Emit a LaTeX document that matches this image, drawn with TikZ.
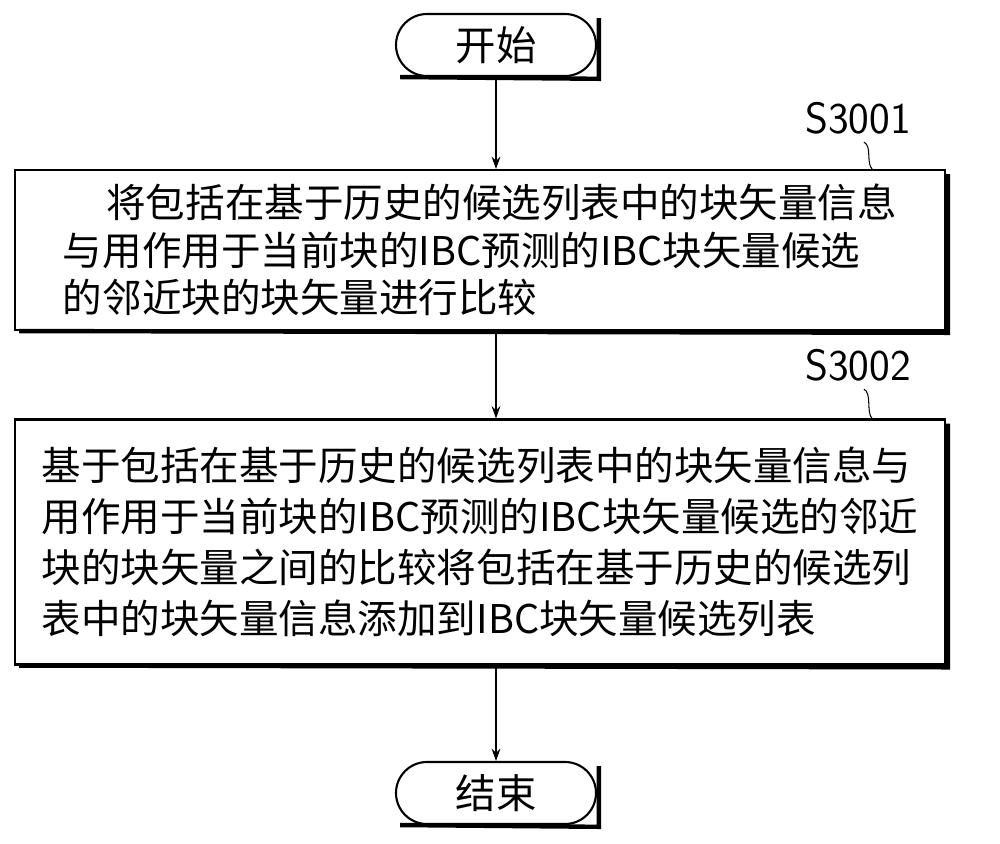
\documentclass[tikz,border=0pt]{standalone}
\usepackage{fontspec}
\setmainfont{Noto Sans CJK SC}
\usetikzlibrary{positioning,arrows.meta}
\tikzset{
  stepbox/.style={draw,line width=1.2pt,minimum width=930*0.02cm,align=left,inner sep=0pt},
  term/.style={draw,line width=1.2pt,rounded corners=31*0.02cm,minimum width=200*0.02cm,minimum height=62*0.02cm,font=\fontsize{23}{25}\selectfont},
  shade/.style={line width=2.5pt},
  flow/.style={-{Stealth[length=7pt,width=5pt]},line width=0.6pt},
  lab/.style={font=\sffamily\fontsize{25}{28}\selectfont}
}
\begin{document}
\begin{tikzpicture}[x=0.02cm,y=-0.02cm]
  \useasboundingbox (0,0) rectangle (1000,844);
  \node[term] (start) at (496,45) {开始};
  \node[stepbox,minimum height=160*0.02cm,font=\fontsize{22.5}{27}\selectfont] (s1) at (480,250) {\hspace*{1.1em}将包括在基于历史的候选列表中的块矢量信息\\与用作用于当前块的IBC预测的IBC块矢量候选\\的邻近块的块矢量进行比较};
  \node[stepbox,minimum height=245*0.02cm,font=\fontsize{22.5}{29}\selectfont] (s2) at (480,542) {基于包括在基于历史的候选列表中的块矢量信息与\\用作用于当前块的IBC预测的IBC块矢量候选的邻近\\块的块矢量之间的比较将包括在基于历史的候选列\\表中的块矢量信息添加到IBC块矢量候选列表};
  \node[term] (end) at (496,793) {结束};
  % shadows
  \foreach \n in {start,s1,s2,end}
    \draw[shade] ([xshift=3pt]\n.south west) -- ([xshift=1pt,yshift=-1pt]\n.south east) -- ([xshift=1pt,yshift=-3pt]\n.north east);
  % labels
  \node[lab] (l1) at (858,118) {S3001};
  \node[lab] (l2) at (858,365) {S3002};
  \draw[line width=0.6pt] (l1.south) ++(6,2) .. controls +(8,4) and +(-6,-6) .. ([xshift=8]s1.north -| l1.south);
  \draw[line width=0.6pt] (l2.south) ++(6,2) .. controls +(8,4) and +(-6,-6) .. ([xshift=8]s2.north -| l2.south);
  % arrows
  \draw[flow] (start) -- (start |- s1.north);
  \draw[flow] (start |- s1.south) -- (start |- s2.north);
  \draw[flow] (start |- s2.south) -- (end);
\end{tikzpicture}
\end{document}
